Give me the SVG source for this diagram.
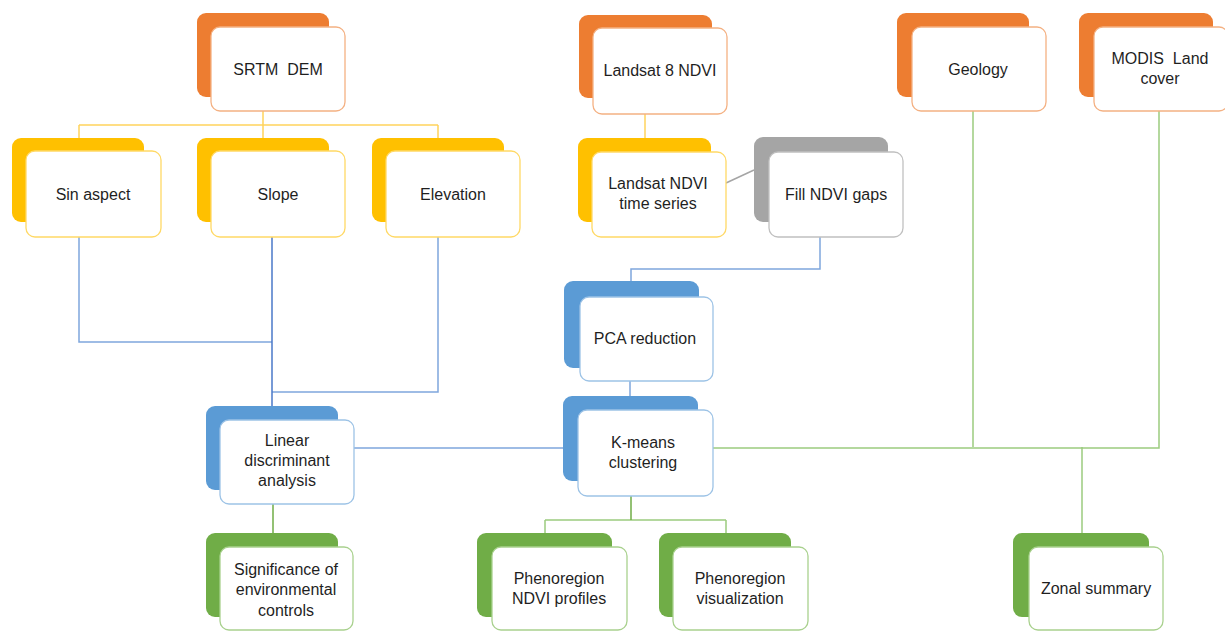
<svg xmlns="http://www.w3.org/2000/svg" width="1225" height="631" viewBox="0 0 1225 631">
<style>
.bk{stroke:none}
.o{fill:#ED7D31}.y{fill:#FFC000}.b{fill:#5B9BD5}.g{fill:#70AD47}.gr{fill:#A5A5A5}
.f{fill:#fff;stroke-width:1.3}
.fo{stroke:#F4B183}.fy{stroke:#FFD966}.fb{stroke:#9DC3E6}.fg{stroke:#A9D18E}.fgr{stroke:#C0C0C0}
text{font-family:"Liberation Sans",Arial,sans-serif;font-size:16px;fill:#1F1F1F;text-anchor:middle}
.c{fill:none;stroke-width:1.5}
.cy{stroke:#FFD35C}.cb{stroke:#7FA6DD}.cbd{stroke:#4A78C8}.cg{stroke:#9CCB7F}.cgd{stroke:#70AD47}.cgr{stroke:#A5A5A5}
</style>
<g id="connectors">
<path class="c cy" d="M263,111V138M79,125H438M79,125V138M438,125V138"/>
<path class="c cy" d="M645,114V138"/>
<path class="c cgr" d="M726,183L754,170"/>
<path class="c cb" d="M79,237V342H272M438,237V392H272M354,448H563M820,237V269H631V281M630,381V396"/>
<path class="c cbd" d="M272,237V406"/>
<path class="c cg" d="M713,448H1159V111M973,111V447M1082,447V533M545,520H726M545,520V533M726,520V533"/>
<path class="c cgd" d="M273,504V533M631,496V520"/>
</g>
<g id="srtm"><rect class="bk o" x="197" y="13" width="132" height="84" rx="9"/><rect class="f fo" x="211" y="27" width="134" height="84" rx="9"/><text x="278" y="75" xml:space="preserve">SRTM  DEM</text></g>
<g id="sinaspect"><rect class="bk y" x="12" y="138" width="132" height="84" rx="9"/><rect class="f fy" x="26" y="151" width="135" height="86" rx="9"/><text x="93" y="200">Sin aspect</text></g>
<g id="slope"><rect class="bk y" x="197" y="138" width="132" height="84" rx="9"/><rect class="f fy" x="211" y="151" width="134" height="86" rx="9"/><text x="278" y="200">Slope</text></g>
<g id="elevation"><rect class="bk y" x="372" y="138" width="132" height="84" rx="9"/><rect class="f fy" x="386" y="151" width="134" height="86" rx="9"/><text x="453" y="200">Elevation</text></g>
<g id="landsat8"><rect class="bk o" x="579" y="15" width="133" height="83" rx="9"/><rect class="f fo" x="593" y="28" width="134" height="86" rx="9"/><text x="660" y="76">Landsat 8 NDVI</text></g>
<g id="timeseries"><rect class="bk y" x="578" y="138" width="133" height="84" rx="9"/><rect class="f fy" x="592" y="152" width="134" height="85" rx="9"/><text x="658" y="189">Landsat NDVI</text><text x="658" y="209">time series</text></g>
<g id="fillgaps"><rect class="bk gr" x="754" y="137" width="134" height="85" rx="9"/><rect class="f fgr" x="769" y="152" width="134" height="85" rx="9"/><text x="836" y="200">Fill NDVI gaps</text></g>
<g id="geology"><rect class="bk o" x="897" y="13" width="132" height="84" rx="9"/><rect class="f fo" x="912" y="27" width="134" height="84" rx="9"/><text x="978" y="75">Geology</text></g>
<g id="modis"><rect class="bk o" x="1079" y="13" width="134" height="84" rx="9"/><rect class="f fo" x="1094" y="27" width="134" height="84" rx="9"/><text x="1160" y="64" xml:space="preserve">MODIS  Land</text><text x="1160" y="84">cover</text></g>
<g id="pca"><rect class="bk b" x="564" y="281" width="135" height="87" rx="9"/><rect class="f fb" x="580" y="297" width="133" height="84" rx="9"/><text x="645" y="344">PCA reduction</text></g>
<g id="kmeans"><rect class="bk b" x="563" y="396" width="135" height="85" rx="9"/><rect class="f fb" x="578" y="410" width="135" height="86" rx="9"/><text x="643" y="448">K-means</text><text x="643" y="468">clustering</text></g>
<g id="lda"><rect class="bk b" x="206" y="406" width="132" height="84" rx="9"/><rect class="f fb" x="220" y="420" width="134" height="84" rx="9"/><text x="287" y="446">Linear</text><text x="287" y="466">discriminant</text><text x="287" y="486">analysis</text></g>
<g id="significance"><rect class="bk g" x="206" y="533" width="132" height="84" rx="9"/><rect class="f fg" x="220" y="547" width="133" height="83" rx="9"/><text x="286" y="575">Significance of</text><text x="286" y="595">environmental</text><text x="286" y="616">controls</text></g>
<g id="phenoprofiles"><rect class="bk g" x="477" y="533" width="135" height="84" rx="9"/><rect class="f fg" x="492" y="547" width="135" height="83" rx="9"/><text x="559" y="584">Phenoregion</text><text x="559" y="604">NDVI profiles</text></g>
<g id="phenovis"><rect class="bk g" x="659" y="533" width="132" height="84" rx="9"/><rect class="f fg" x="673" y="547" width="135" height="83" rx="9"/><text x="740" y="584">Phenoregion</text><text x="740" y="604">visualization</text></g>
<g id="zonal"><rect class="bk g" x="1013" y="533" width="136" height="84" rx="9"/><rect class="f fg" x="1029" y="547" width="134" height="83" rx="9"/><text x="1096" y="594">Zonal summary</text></g>
</svg>
